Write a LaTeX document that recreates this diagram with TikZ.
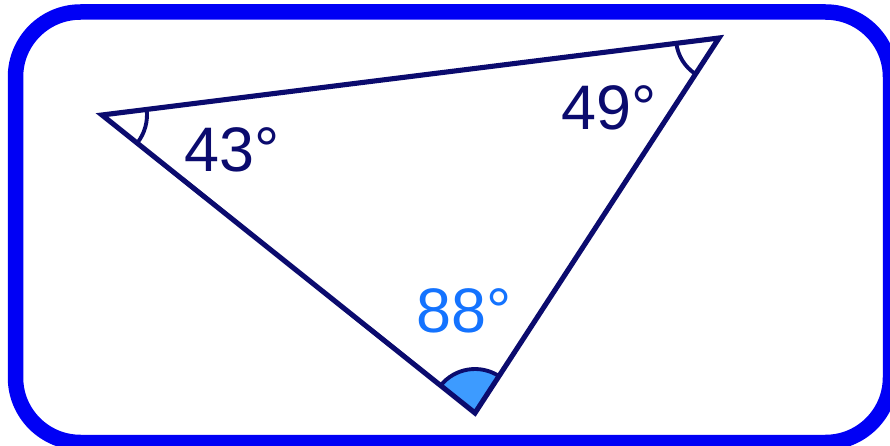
\documentclass[tikz,border=0pt]{standalone}
\usepackage{fontspec}
\setmainfont{Liberation Sans}
\usetikzlibrary{angles}
\definecolor{FrameBlue}{HTML}{0000F5}
\definecolor{TriInk}{HTML}{0B0B6E}
\definecolor{AngleBlue}{HTML}{1473FF}
\definecolor{AngleFill}{HTML}{3D9BFF}

\begin{document}
\begin{tikzpicture}[x=0.02cm, y=0.02cm,
    anglelbl/.style={font=\fontsize{35.8}{40}\selectfont, inner sep=0pt, anchor=base west}]
  \useasboundingbox (0,0) rectangle (890,-446);
  \clip (0,0) rectangle (890,-446);
  % frame
  \draw[FrameBlue, line width=15.5*0.02cm, rounded corners=1.3cm]
    (15.5,-12) rectangle (890.5,-442.5);
  % vertices
  \coordinate (A) at (102,-115);
  \coordinate (B) at (719,-38);
  \coordinate (C) at (475,-413);
  % angle marks
  \pic[draw=TriInk, line width=2.2pt, angle radius=0.9cm] {angle=C--A--B};
  \pic[draw=TriInk, line width=2.2pt, angle radius=0.86cm] {angle=A--B--C};
  \pic[draw=TriInk, fill=AngleFill, line width=2.2pt, angle radius=0.88cm] {angle=B--C--A};
  % triangle
  \draw[TriInk, line width=2.9pt, line join=miter] (A) -- (B) -- (C) -- cycle;
  % labels
  \node[anglelbl, text=TriInk] (a43) at (184,-172) {43°};
  \node[anglelbl, text=TriInk] (b49) at (561,-130) {49°};
  \node[anglelbl, text=AngleBlue] (c88) at (416,-332) {88°};
\end{tikzpicture}
\end{document}
